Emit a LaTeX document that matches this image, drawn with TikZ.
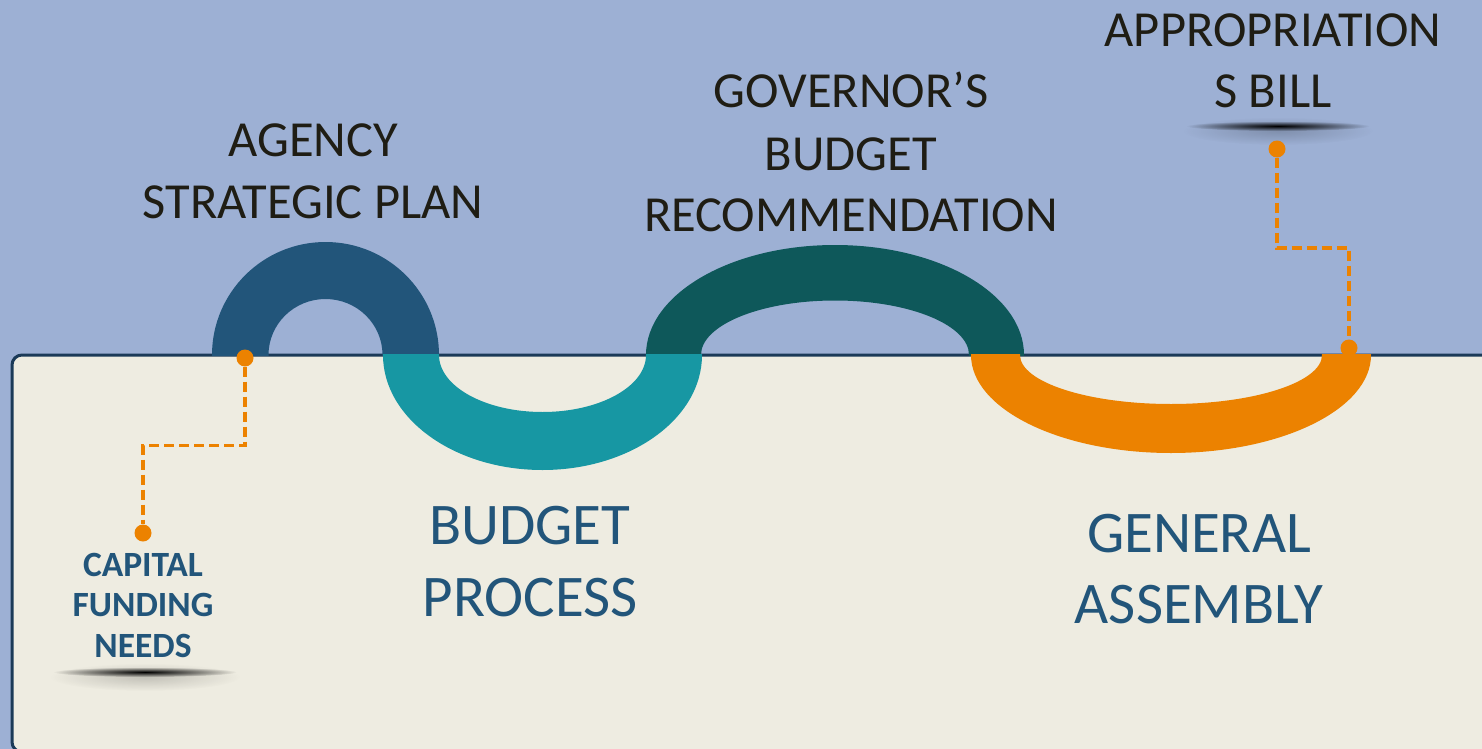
\documentclass[tikz,border=0pt]{standalone}
\usepackage{fontspec}
\setmainfont{Carlito}
\usetikzlibrary{fadings}
\tikzfading[name=softoval, inner color=transparent!0, outer color=transparent!100]
\definecolor{bgblue}{RGB}{157,176,212}
\definecolor{cream}{RGB}{238,236,225}
\definecolor{navy}{RGB}{27,58,88}
\definecolor{arcblue}{RGB}{34,85,122}
\definecolor{arcteal}{RGB}{23,151,163}
\definecolor{arcgreen}{RGB}{14,88,90}
\definecolor{arcorange}{RGB}{236,130,0}
\definecolor{txtdark}{RGB}{31,29,20}
\definecolor{txtblue}{RGB}{34,85,122}
\begin{document}
\begin{tikzpicture}[x=1pt,y=-1pt,
  toplbl/.style={font=\fontsize{50.5}{61}\selectfont, text=txtdark, anchor=base, inner sep=0pt},
  biglbl/.style={font=\fontsize{59}{71}\selectfont, text=txtblue, anchor=base, inner sep=0pt},
  smalllbl/.style={font=\bfseries\fontsize{35.5}{40}\selectfont, text=txtblue, anchor=base, inner sep=0pt},
  dotnode/.style={circle, fill=arcorange, inner sep=0pt, minimum size=17pt},
  leader/.style={arcorange, line width=3.5pt, dash pattern=on 10pt off 5pt},
  shadowcore/.style={fill=black, path fading=softoval},
  shadowglow/.style={fill=black, fill opacity=0.18, path fading=softoval}]
\useasboundingbox (0,0) rectangle (1482,749);
\fill[bgblue] (0,0) rectangle (1482,749);
% cream panel
\draw[navy, line width=3pt, fill=cream, rounded corners=10pt] (12,355) rectangle (1530,752);
% upper arcs
\begin{scope}
  \clip (0,0) rectangle (1482,355.5);
  \fill[arcblue, even odd rule] (325.5,355) ellipse [x radius=113.5, y radius=113]
                                (325.5,355) ellipse [x radius=57, y radius=56];
  \fill[arcgreen, even odd rule] (835,355) ellipse [x radius=189, y radius=110]
                                 (835,355) ellipse [x radius=134, y radius=54.5];
\end{scope}
% lower arcs
\begin{scope}
  \clip (0,354.5) rectangle (1482,749);
  \fill[arcteal, even odd rule] (542.5,355) ellipse [x radius=159.5, y radius=115]
                                (542.5,355) ellipse [x radius=103.5, y radius=57];
  \fill[arcorange, even odd rule] (1171,355) ellipse [x radius=200, y radius=98]
                                  (1171,355) ellipse [x radius=151, y radius=49];
\end{scope}
% shadows
\fill[shadowglow] (145,677) ellipse [x radius=95, y radius=14];
\fill[shadowcore] (145,672) ellipse [x radius=92, y radius=5];
\fill[shadowglow] (1278,131) ellipse [x radius=95, y radius=14];
\fill[shadowcore] (1278,126) ellipse [x radius=92, y radius=5];
% top labels
\node[toplbl] (agency1) at (313,157) {AGENCY};
\node[toplbl] (agency2) at (313,218) {STRATEGIC PLAN};
\node[toplbl] (gov1) at (851,108) {GOVERNOR’S};
\node[toplbl] (gov2) at (851,170) {BUDGET};
\node[toplbl] (gov3) at (851,231) {RECOMMENDATION};
\node[toplbl] (approp1) at (1273,47) {APPROPRIATION};
\node[toplbl] (approp2) at (1273,108) {S BILL};
% bottom labels
\node[biglbl] (budget1) at (530,544) {BUDGET};
\node[biglbl] (budget2) at (530,616) {PROCESS};
\node[biglbl] (assembly1) at (1199,552) {GENERAL};
\node[biglbl] (assembly2) at (1199,623) {ASSEMBLY};
\node[smalllbl] (cap1) at (143,576) {CAPITAL};
\node[smalllbl] (cap2) at (143,616) {FUNDING};
\node[smalllbl] (cap3) at (143,657) {NEEDS};
% leader lines
\node[dotnode] (d1) at (245,358) {};
\node[dotnode] (d2) at (143,533) {};
\coordinate (k1) at (245,445.5);
\node[dotnode] (d3) at (1277,149) {};
\node[dotnode] (d4) at (1349,348) {};
\coordinate (k2) at (1277,248);
\draw[leader] (d1) -- (k1) -| (d2);
\draw[leader] (d3) -- (k2) -| (d4);
\end{tikzpicture}
\end{document}
